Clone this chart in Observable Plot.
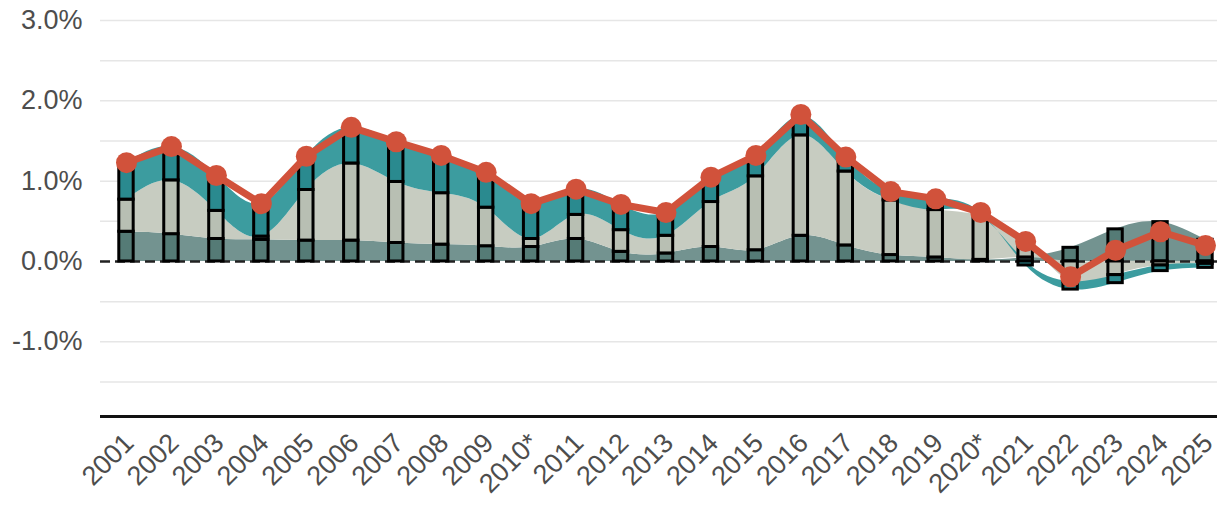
<!DOCTYPE html>
<html><head><meta charset="utf-8">
<script src="https://cdn.jsdelivr.net/npm/d3@7"></script>
<script src="https://cdn.jsdelivr.net/npm/@observablehq/plot@0.6"></script>
<style>body{margin:0;background:#fff} #chart svg{display:block}</style>
</head><body><div id="chart"></div>
<script>
const years = [2001,2002,2003,2004,2005,2006,2007,2008,2009,2010,2011,2012,2013,2014,2015,2016,2017,2018,2019,2020,2021,2022,2023,2024,2025];
const yearLabels = ["2001","2002","2003","2004","2005","2006","2007","2008","2009","2010*","2011","2012","2013","2014","2015","2016","2017","2018","2019","2020*","2021","2022","2023","2024","2025"];
// stacked components (percentage points)
const bottomSeries = [0.37,0.34,0.28,0.27,0.26,0.26,0.23,0.21,0.19,0.18,0.28,0.12,0.10,0.18,0.14,0.32,0.20,0.08,0.05,0.02,0.05,0.17,0.40,0.49,0.27];
const middleSeries = [0.40,0.67,0.35,0.04,0.63,0.96,0.76,0.64,0.48,0.10,0.30,0.27,0.22,0.56,0.92,1.25,0.92,0.68,0.59,0.55,0.22,-0.25,-0.17,-0.05,-0.03];
const topSeries    = [0.46,0.42,0.44,0.41,0.42,0.45,0.50,0.47,0.44,0.44,0.32,0.32,0.29,0.31,0.26,0.24,0.18,0.11,0.14,0.04,-0.05,-0.10,-0.10,-0.07,-0.05];
const totalSeries  = [1.23,1.43,1.07,0.72,1.31,1.67,1.49,1.32,1.11,0.72,0.90,0.71,0.61,1.05,1.32,1.83,1.30,0.87,0.78,0.61,0.25,-0.19,0.14,0.37,0.20];
const yTicks = [-1,0,1,2,3];
const gridTicks = [-1.5,-1,-0.5,0.5,1,1.5,2,2.5,3];

const seriesNames = ["bottom","middle","top"];
const seriesArrays = [bottomSeries, middleSeries, topSeries];
const areaColors = {bottom:"#739390", middle:"#c7ccc1", top:"#3c9c9f"};
const barColors  = {bottom:"#557b76", middle:"#b8bfb3", top:"#2a8a8f"};

const rows = [];
years.forEach((yr, i) => {
  let pos = 0, neg = 0;
  seriesArrays.forEach((arr, k) => {
    const v = arr[i];
    let y1, y2;
    if (v >= 0) { y1 = pos; y2 = pos + v; pos = y2; }
    else { y1 = neg; y2 = neg + v; neg = y2; }
    rows.push({year: yr, series: seriesNames[k], value: v, y1, y2});
  });
});
const totals = years.map((yr, i) => ({year: yr, total: totalSeries[i]}));
const halfW = 0.16;

const marks = [
  Plot.ruleY(gridTicks, {stroke: "#e6e6e6", strokeWidth: 1.5})
];
seriesNames.forEach(s => {
  marks.push(Plot.areaY(rows.filter(r => r.series === s), {x: "year", y1: "y1", y2: "y2", fill: areaColors[s], curve: "natural"}));
});
marks.push(Plot.ruleY([0], {stroke: "#222", strokeWidth: 2.5, strokeDasharray: "10,5"}));
seriesNames.forEach(s => {
  marks.push(Plot.rect(rows.filter(r => r.series === s), {x1: d => d.year - halfW, x2: d => d.year + halfW, y1: "y1", y2: "y2", fill: barColors[s], stroke: "#000", strokeWidth: 3}));
});
marks.push(Plot.line(totals, {x: "year", y: "total", stroke: "#d1523b", strokeWidth: 7}));
marks.push(Plot.dot(totals, {x: "year", y: "total", r: 10.5, fill: "#d1523b", stroke: "none"}));
marks.push(Plot.ruleY([-1.93], {stroke: "#111", strokeWidth: 3}));
marks.push(Plot.text(yTicks, {frameAnchor: "left", y: d => d, text: d => d.toFixed(1) + "%", textAnchor: "end", dx: -18, fontSize: 27, fill: "#4d4d4d"}));
marks.push(Plot.text(years, {x: d => d, frameAnchor: "bottom", text: (d, i) => yearLabels[i], rotate: -45, textAnchor: "end", dx: 9, dy: 28, fontSize: 27, fill: "#4d4d4d"}));

const plot = Plot.plot({
  width: 1217, height: 510,
  marginLeft: 100, marginRight: 0, marginTop: 20, marginBottom: 94,
  x: {domain: [2000.422, 2025.267], axis: null},
  y: {domain: [-1.93, 3.0], axis: null},
  style: {fontFamily: "'Liberation Sans', Arial, sans-serif", background: "#fff", overflow: "visible"},
  marks
});
document.getElementById("chart").appendChild(plot);
</script>
</body></html>
